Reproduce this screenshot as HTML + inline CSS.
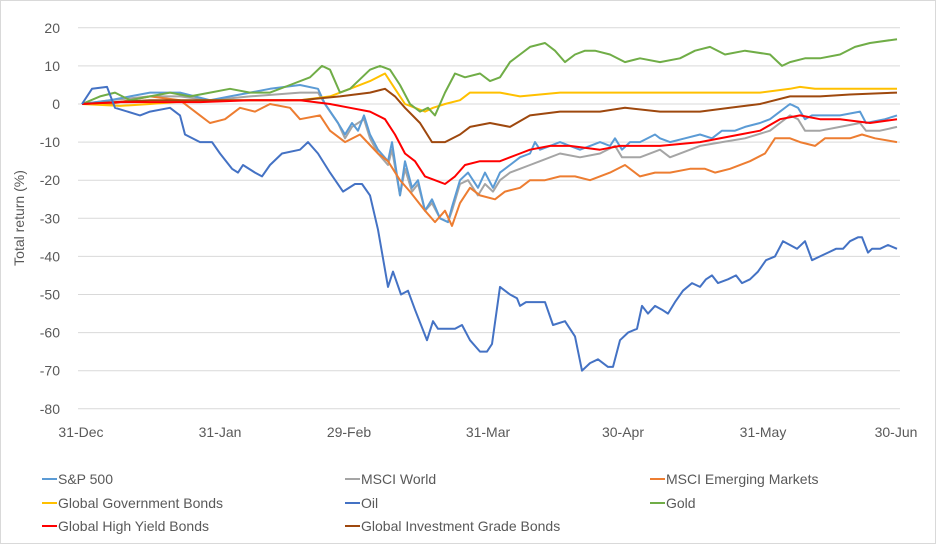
<!DOCTYPE html>
<html><head><meta charset="utf-8"><style>
body{margin:0;background:#fff;}
svg text{font-family:"Liberation Sans",sans-serif;fill:#595959;}
</style></head><body>
<svg id="c" width="936" height="544" xmlns="http://www.w3.org/2000/svg">
<rect x="0.5" y="0.5" width="935" height="543" fill="#fff" stroke="#d9d9d9"/>
<g id="grid" stroke="#d9d9d9" stroke-width="1"></g>
<g id="ylab" font-size="14" text-anchor="end"></g>
<text transform="translate(24,218) rotate(-90)" font-size="14" text-anchor="middle">Total return (%)</text>
<g font-size="14" text-anchor="middle">
<text x="81" y="437">31-Dec</text><text x="220" y="437">31-Jan</text><text x="349" y="437">29-Feb</text>
<text x="488" y="437">31-Mar</text><text x="623" y="437">30-Apr</text><text x="763" y="437">31-May</text><text x="896" y="437">30-Jun</text>
</g>
<g id="series" fill="none" stroke-width="2" stroke-linejoin="round"></g>
<g font-size="14">
<line x1="42" y1="479" x2="57" y2="479" stroke="#5B9BD5" stroke-width="2"/><text x="58" y="484">S&amp;P 500</text>
<line x1="345" y1="479" x2="360" y2="479" stroke="#A5A5A5" stroke-width="2"/><text x="361" y="484">MSCI World</text>
<line x1="650" y1="479" x2="665" y2="479" stroke="#ED7D31" stroke-width="2"/><text x="666" y="484">MSCI Emerging Markets</text>
<line x1="42" y1="503" x2="57" y2="503" stroke="#FFC000" stroke-width="2"/><text x="58" y="508">Global Government Bonds</text>
<line x1="345" y1="503" x2="360" y2="503" stroke="#4472C4" stroke-width="2"/><text x="361" y="508">Oil</text>
<line x1="650" y1="503" x2="665" y2="503" stroke="#70AD47" stroke-width="2"/><text x="666" y="508">Gold</text>
<line x1="42" y1="526" x2="57" y2="526" stroke="#FF0000" stroke-width="2"/><text x="58" y="531">Global High Yield Bonds</text>
<line x1="345" y1="526" x2="360" y2="526" stroke="#9E480E" stroke-width="2"/><text x="361" y="531">Global Investment Grade Bonds</text>
</g>
</svg>
<script>
var NS="http://www.w3.org/2000/svg";
function Y(v){return 104-v*3.81;}
var g=document.getElementById('grid'),yl=document.getElementById('ylab');
for(var v=20;v>=-80;v-=10){
 var l=document.createElementNS(NS,'line');l.setAttribute('x1',78);l.setAttribute('x2',900);l.setAttribute('y1',Y(v));l.setAttribute('y2',Y(v));g.appendChild(l);
 var t=document.createElementNS(NS,'text');t.setAttribute('x',60);t.setAttribute('y',Y(v)+5);t.textContent=v;yl.appendChild(t);
}
function P(s){return s.trim().split(/\s*,\s*/).map(function(p){var a=p.split(':');return a[0]+','+Y(+a[1]).toFixed(1);}).join(' ');}
var S=[
["#A5A5A5","82:0,110:1,150:2,180:2,210:1,250:2,300:3,318:3,325:0,338:-5,345:-9,352:-6,364:-4,370:-9,378:-13,388:-16,392:-12,400:-24,405:-17,412:-23,418:-21,425:-28,432:-26,440:-30,448:-31,452:-28,460:-21,468:-20,478:-24,485:-21,493:-23,500:-20,510:-18,520:-17,530:-16,540:-15,560:-13,580:-14,600:-13,615:-11,622:-14,640:-14,660:-12,670:-14,700:-11,722:-10,745:-9,770:-7,780:-5,790:-3,798:-4,805:-7,820:-7,840:-6,860:-5,866:-7,880:-7,897:-6"],
["#5B9BD5","82:0,110:1,130:2,150:3,180:3,210:1,230:2,250:3,270:4,300:5,318:4,325:0,338:-5,345:-8,352:-5,358:-7,364:-3,370:-8,378:-12,388:-15,392:-10,400:-24,405:-15,412:-22,418:-20,425:-28,432:-25,440:-30,448:-31,452:-27,460:-20,468:-18,478:-22,485:-18,493:-22,500:-18,510:-16,520:-14,530:-13,535:-10,540:-12,550:-11,560:-10,570:-11,580:-12,590:-11,600:-10,610:-11,615:-9,622:-12,630:-10,640:-10,655:-8,660:-9,670:-10,685:-9,700:-8,712:-9,722:-7,735:-7,745:-6,760:-5,770:-4,780:-2,790:0,798:-1,805:-4,812:-3,840:-3,860:-2,866:-5,885:-4,897:-3"],
["#ED7D31","82:0,110:0,150:2,180:1,200:-3,210:-5,225:-4,240:-1,255:-2,270:0,290:-1,300:-4,320:-3,330:-7,345:-10,360:-8,378:-13,388:-15,400:-20,410:-23,425:-28,435:-31,445:-28,452:-32,460:-26,470:-22,480:-24,495:-25,505:-23,520:-22,530:-20,545:-20,560:-19,575:-19,590:-20,610:-18,625:-16,640:-19,655:-18,670:-18,690:-17,705:-17,715:-18,730:-17,750:-15,765:-13,775:-9,790:-9,800:-10,815:-11,825:-9,850:-9,862:-8,875:-9,897:-10"],
["#FFC000","82:0,120:-0.5,150:0,200:1,300:1,330:2,350:4,370:6,385:8,395:4,405:0,415:-1,425:-2,433:-1,445:0,460:1,470:3,500:3,520:2,560:3,760:3,790:4,800:4.5,815:4,897:4"],
["#70AD47","82:0,100:2,115:3,130:1,150:2,170:3,190:2,210:3,230:4,250:3,270:3,290:5,310:7,322:10,330:9,340:3,350:4,370:9,380:10,390:9,400:5,410:0,420:-2,428:-1,435:-3,445:3,455:8,465:7,480:8,490:6,500:7,510:11,520:13,530:15,545:16,555:14,565:11,575:13,585:14,595:14,610:13,625:11,640:12,660:11,680:12,695:14,710:15,725:13,745:14,770:13,782:10,790:11,805:12,820:12,840:13,855:15,870:16,897:17"],
["#9E480E","82:0,150:1,300:1,340:2,370:3,385:4,395:2,405:-1,420:-5,432:-10,445:-10,460:-8,470:-6,490:-5,510:-6,530:-3,560:-2,600:-2,625:-1,660:-2,700:-2,730:-1,760:0,790:2,820:2,850:2.5,897:3"],
["#FF0000","82:0,120:0.5,200:0.5,250:1,300:1,330:0,350:-1,370:-2,385:-4,395:-8,405:-13,415:-15,425:-19,435:-20,445:-21,455:-19,465:-16,480:-15,500:-15,510:-14,520:-13,530:-12,550:-11,570:-11,600:-12,620:-11,660:-11,700:-10,740:-8,760:-7,780:-4,800:-3,820:-4,840:-4,870:-5,897:-4"],
["#4472C4","82:0,92:4,107:4.5,115:-1,140:-3,150:-2,170:-1,180:-3,185:-8,200:-10,212:-10,220:-13,232:-17,238:-18,243:-16,255:-18,262:-19,270:-16,282:-13,300:-12,308:-10,318:-13,330:-18,343:-23,355:-21,362:-21,370:-24,378:-33,388:-48,393:-44,401:-50,408:-49,415:-54,427:-62,433:-57,438:-59,455:-59,462:-58,470:-62,480:-65,487:-65,492:-63,500:-48,510:-50,517:-51,520:-53,526:-52,545:-52,553:-58,565:-57,575:-61,582:-70,590:-68,598:-67,608:-69,613:-69,620:-62,628:-60,637:-59,642:-53,648:-55,655:-53,662:-54,668:-55,675:-52,683:-49,692:-47,700:-48,706:-46,712:-45,718:-47,728:-46,736:-45,742:-47,750:-46,758:-44,766:-41,775:-40,783:-36,790:-37,797:-38,805:-36,812:-41,820:-40,828:-39,836:-38,843:-38,850:-36,858:-35,862:-35,868:-39,872:-38,880:-38,888:-37,897:-38"]
];
var sg=document.getElementById('series');
S.forEach(function(s){var p=document.createElementNS(NS,'polyline');p.setAttribute('stroke',s[0]);p.setAttribute('points',P(s[1]));sg.appendChild(p);});
</script>
</body></html>
